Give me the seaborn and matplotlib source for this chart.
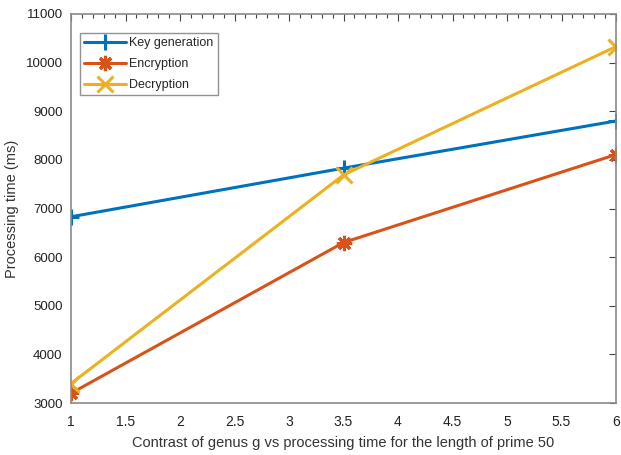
import matplotlib
matplotlib.use("Agg")
import matplotlib.pyplot as plt
import seaborn as sns
import pandas as pd
from matplotlib.ticker import MultipleLocator

genus = [1, 3.5, 6]
key_generation = [6830, 7830, 8800]
encryption = [3200, 6300, 8110]
decryption = [3400, 7690, 10330]
series_names = ["Key generation", "Encryption", "Decryption"]

df = pd.DataFrame({
    "g": genus * 3,
    "time": key_generation + encryption + decryption,
    "series": sum([[n] * len(genus) for n in series_names], []),
})

sns.set_style("white")
plt.rcParams["font.family"] = ["Liberation Sans", "DejaVu Sans"]

fig = plt.figure(figsize=(6.21, 4.55), dpi=100)
ax = fig.add_axes([71 / 621, (455 - 403) / 455, (616 - 71) / 621, (403 - 14) / 455])

colors = ["#0072BD", "#D95319", "#EDB120"]
markers = ["+", (8, 2, 0), "x"]
sizes = [12, 11, 11]
for name, c, m, ms in zip(series_names, colors, markers, sizes):
    sub = df[df["series"] == name]
    sns.lineplot(data=sub, x="g", y="time", ax=ax, color=c, marker=m,
                 markersize=ms, markeredgewidth=2.2,
                 markeredgecolor=c, linewidth=2.2, label=name)

ax.set_xlim(1, 6)
ax.set_ylim(3000, 11000)
ax.set_xticks([1, 1.5, 2, 2.5, 3, 3.5, 4, 4.5, 5, 5.5, 6])
ax.set_xticklabels(["1", "1.5", "2", "2.5", "3", "3.5", "4", "4.5", "5", "5.5", "6"])
ax.set_yticks(range(3000, 11001, 1000))
ax.xaxis.set_minor_locator(MultipleLocator(0.1))
ax.tick_params(axis="both", which="both", direction="in", top=True, right=True,
               colors="#444444", labelcolor="#222222", labelsize=10)
ax.tick_params(axis="y", labelsize=9.5)
ax.tick_params(axis="x", which="major", length=5, width=0.8, pad=9)
ax.tick_params(axis="y", which="major", length=5, width=0.8, pad=6)
ax.tick_params(which="minor", length=3, width=0.8)
for s in ax.spines.values():
    s.set_color("#8a8a8a")
    s.set_linewidth(1.2)
ax.set_xlabel("Contrast of genus g vs processing time for the length of prime 50",
              fontsize=10.5, color="#333333", labelpad=5)
ax.set_ylabel("Processing time (ms)", fontsize=10.5, color="#333333", labelpad=5)

leg = ax.legend(loc="upper left", bbox_to_anchor=(0.0165, 0.951), fontsize=9,
                frameon=True, fancybox=False, edgecolor="#777777",
                handlelength=3.3, borderpad=0.35, labelspacing=0.7, handletextpad=0.3,
                borderaxespad=0)
leg.get_frame().set_linewidth(1.0)

fig.savefig("out.png", dpi=100)
